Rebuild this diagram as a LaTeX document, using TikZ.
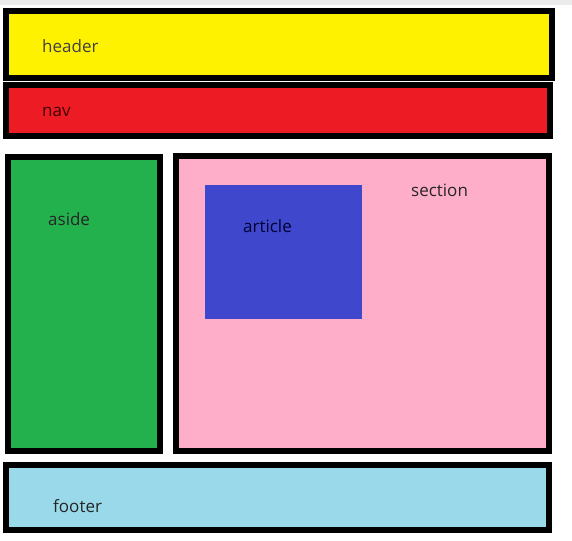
\documentclass[tikz,border=0pt]{standalone}
\usepackage{fontspec}
\setmainfont{Open Sans}
\begin{document}
\begin{tikzpicture}[x=1pt,y=-1pt,
  box/.style={draw=black, line width=6pt, rectangle, inner sep=0pt},
  plain/.style={rectangle, inner sep=0pt},
  label/.style={anchor=west, inner sep=0pt, font=\fontsize{17}{20}\selectfont, text=black!85}
]
\definecolor{hdr}{HTML}{FFF200}
\definecolor{navred}{HTML}{ED1C24}
\definecolor{asidegreen}{HTML}{22B14C}
\definecolor{secpink}{HTML}{FFAEC9}
\definecolor{artblue}{HTML}{3F48CC}
\definecolor{footblue}{HTML}{99D9EA}
% page
\fill[white] (0,0) rectangle (572,540);
\useasboundingbox (0,0) rectangle (572,540);
\fill[black!8] (0,0) rectangle (572,5);
% layout blocks
\node[box, fill=hdr, minimum width=546pt, minimum height=67pt] (header) at (279,44.5) {};
\node[box, fill=navred, minimum width=544pt, minimum height=51pt] (nav) at (278,110.5) {};
\node[box, fill=asidegreen, minimum width=152pt, minimum height=294pt] (aside) at (84,304) {};
\node[box, fill=secpink, minimum width=373pt, minimum height=295pt] (section) at (362.5,303.5) {};
\node[plain, fill=artblue, minimum width=157pt, minimum height=134pt] (article) at (283.5,252) {};
\node[box, fill=footblue, minimum width=543pt, minimum height=65pt] (footer) at (277.5,497.5) {};
% labels
\node[label, text=black!75] (tHeader) at (42,46) {header};
\node[label, text=black!75!red] (tNav) at (42,112) {nav};
\node[label] (tAside) at (48,219) {aside};
\node[label] (tSection) at (411,190) {section};
\node[label, text=black!80!blue] (tArticle) at (243,226) {article};
\node[label] (tFooter) at (53,506) {footer};
\end{tikzpicture}
\end{document}
